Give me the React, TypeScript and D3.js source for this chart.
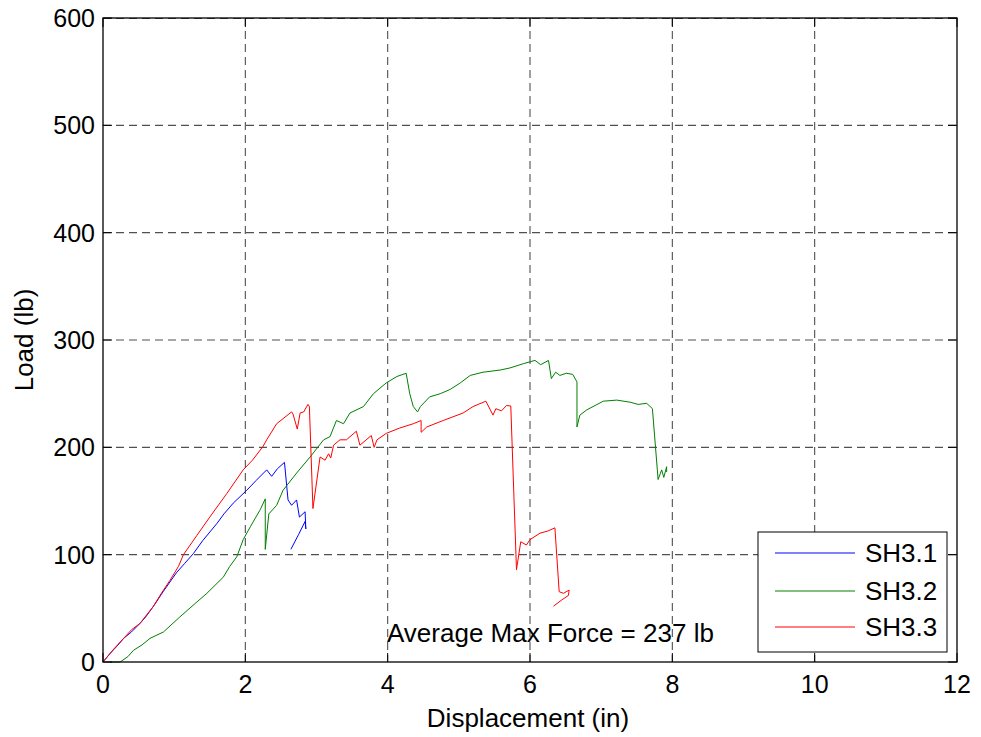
import React from "react";
import * as d3 from "d3";

const xTicks = [0, 2, 4, 6, 8, 10, 12];
const yTicks = [0, 100, 200, 300, 400, 500, 600];
const seriesNames = ["SH3.1", "SH3.2", "SH3.3"];
const seriesColors = ["#0000ff", "#008000", "#ff0000"];

const sh31X = [0, 0.1, 0.2, 0.29, 0.4, 0.52, 0.6, 0.71, 0.85, 1.03, 1.15, 1.27, 1.4, 1.6, 1.7, 1.83, 2.02, 2.15, 2.3, 2.37, 2.45, 2.55, 2.6, 2.65, 2.72, 2.76, 2.84, 2.85, 2.84, 2.75, 2.64];
const sh31Y = [0, 8, 15, 22, 28, 36, 42, 52, 66, 83, 92, 101, 113, 129, 138, 148, 160, 169, 179, 173, 180, 186, 151, 146, 151, 135, 140, 124, 131, 119, 105];

const sh32X = [0.1, 0.24, 0.35, 0.43, 0.55, 0.66, 0.85, 1.08, 1.32, 1.46, 1.69, 1.78, 1.88, 1.97, 2.07, 2.21, 2.28, 2.28, 2.33, 2.44, 2.53, 2.72, 2.91, 3.1, 3.19, 3.28, 3.38, 3.47, 3.66, 3.8, 3.98, 4.13, 4.26, 4.31, 4.36, 4.42, 4.46, 4.59, 4.74, 4.88, 5.02, 5.16, 5.34, 5.58, 5.72, 5.91, 6.07, 6.15, 6.26, 6.3, 6.36, 6.42, 6.51, 6.6, 6.66, 6.66, 6.7, 6.8, 7.03, 7.22, 7.41, 7.52, 7.64, 7.72, 7.8, 7.85, 7.88, 7.92, 7.92];
const sh32Y = [0, 0, 5, 11, 16, 22, 28, 42, 56, 64, 79, 89, 98, 114, 126, 142, 152, 105, 138, 146, 160, 176, 191, 207, 210, 225, 222, 232, 238, 250, 260, 266, 269, 250, 238, 233, 238, 247, 250, 254, 260, 267, 270, 272, 274, 278, 281, 277, 281, 264, 270, 267, 269, 268, 261, 219, 230, 235, 243, 244, 242, 240, 241, 236, 170, 179, 172, 182, 177];

const sh33X = [0, 0.15, 0.29, 0.4, 0.52, 0.71, 0.82, 0.94, 1.06, 1.13, 1.32, 1.5, 1.74, 1.97, 2.1, 2.25, 2.3, 2.44, 2.65, 2.67, 2.73, 2.77, 2.82, 2.88, 2.9, 2.95, 3.05, 3.12, 3.17, 3.2, 3.24, 3.33, 3.42, 3.56, 3.61, 3.77, 3.81, 3.85, 3.98, 4.17, 4.36, 4.47, 4.47, 4.55, 4.78, 5.06, 5.2, 5.38, 5.48, 5.52, 5.6, 5.67, 5.73, 5.81, 5.87, 5.95, 6.0, 6.14, 6.25, 6.35, 6.41, 6.47, 6.55, 6.54, 6.45, 6.33];
const sh33Y = [0, 12, 22, 30, 36, 52, 64, 76, 89, 100, 118, 135, 157, 179, 188, 201, 207, 222, 233, 231, 217, 232, 233, 240, 238, 143, 191, 188, 194, 190, 202, 207, 207, 215, 202, 211, 200, 207, 213, 218, 222, 225, 214, 219, 225, 232, 238, 243, 230, 236, 234, 239, 238.5, 86, 112, 109, 114, 120, 122, 125, 65.5, 64, 67, 62, 58, 52];

const annotation = "Average Max Force = 237 lb";

export default function App() {
  const W = 981, H = 737;
  const left = 103, right = 957, top = 18, bottom = 662;
  const x = d3.scaleLinear().domain([0, 12]).range([left, right]);
  const y = d3.scaleLinear().domain([0, 600]).range([bottom, top]);
  const font = "'Liberation Sans', Arial, sans-serif";
  const fs = 25;
  const fsL = 26;
  const series = [
    { xs: sh31X, ys: sh31Y },
    { xs: sh32X, ys: sh32Y },
    { xs: sh33X, ys: sh33Y },
  ];
  const line = d3.line<[number, number]>().x(d => x(d[0])).y(d => y(d[1]));
  const tickLen = 9;
  const lg = { x0: 758, y0: 532, x1: 947, y1: 652 };
  const lgRows = [553, 591, 627];

  return (
    <svg width={W} height={H} style={{ position: "absolute", left: 0, top: 0, background: "#fff" }}>
      <rect x={0} y={0} width={W} height={H} fill="#fff" />
      {xTicks.slice(1, -1).map(t => (
        <line key={"gx" + t} x1={x(t)} x2={x(t)} y1={top} y2={bottom} stroke="#505050" strokeWidth={1.1} strokeDasharray="8,5" />
      ))}
      {yTicks.slice(1).map(t => (
        <line key={"gy" + t} x1={left} x2={right} y1={y(t) + (t === 600 ? 0.5 : 0)} y2={y(t) + (t === 600 ? 0.5 : 0)} stroke="#505050" strokeWidth={1.1} strokeDasharray="8,5" />
      ))}
      {series.map((s, i) => (
        <path key={i} d={line(s.xs.map((v, j) => [v, s.ys[j]] as [number, number])) || ""} fill="none" stroke={seriesColors[i]} strokeWidth={1} strokeLinejoin="round" />
      ))}
      {xTicks.map(t => (
        <g key={"tx" + t}>
          <line x1={x(t)} x2={x(t)} y1={bottom} y2={bottom - tickLen} stroke="#000" />
          <line x1={x(t)} x2={x(t)} y1={top} y2={top + tickLen} stroke="#000" />
          <text x={x(t)} y={693} textAnchor="middle" fontFamily={font} fontSize={fs}>{t}</text>
        </g>
      ))}
      {yTicks.map(t => (
        <g key={"ty" + t}>
          <line x1={left} x2={left + tickLen} y1={y(t)} y2={y(t)} stroke="#000" />
          <line x1={right} x2={right - tickLen} y1={y(t)} y2={y(t)} stroke="#000" />
          <text x={95} y={y(t) + 9} textAnchor="end" fontFamily={font} fontSize={fs}>{t}</text>
        </g>
      ))}
      <rect x={left} y={top} width={right - left} height={bottom - top} fill="none" stroke="#000" strokeWidth={1.3} />
      <text x={387} y={642} fontFamily={font} fontSize={fsL}>{annotation}</text>
      <text x={528} y={727} textAnchor="middle" fontFamily={font} fontSize={fsL}>Displacement (in)</text>
      <text transform={`translate(33,${(top + bottom) / 2}) rotate(-90)`} textAnchor="middle" fontFamily={font} fontSize={fsL}>Load (lb)</text>
      <rect x={lg.x0} y={lg.y0} width={lg.x1 - lg.x0} height={lg.y1 - lg.y0} fill="#fff" stroke="#000" strokeWidth={1} />
      {seriesNames.map((n, i) => (
        <g key={n}>
          <line x1={775} x2={855} y1={lgRows[i]} y2={lgRows[i]} stroke={seriesColors[i]} strokeWidth={1} />
          <text x={865} y={lgRows[i] + 9} fontFamily={font} fontSize={fsL}>{n}</text>
        </g>
      ))}
    </svg>
  );
}
